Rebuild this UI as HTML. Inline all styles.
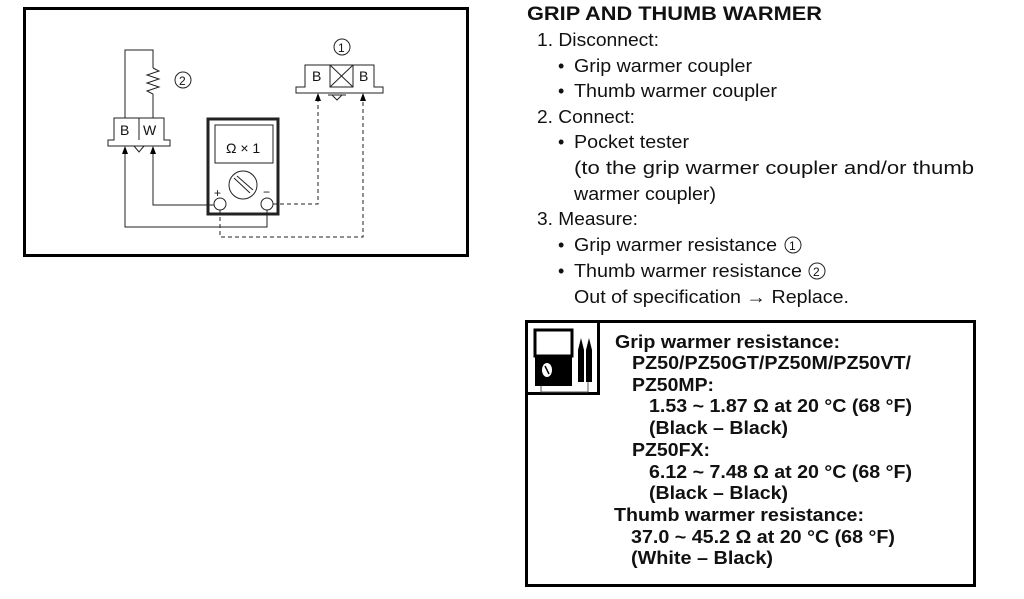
<!DOCTYPE html>
<html><head><meta charset="utf-8"><style>
html,body{margin:0;padding:0;background:#fff;width:1024px;height:599px;overflow:hidden}
svg{display:block}
text{font-family:"Liberation Sans",Arial,sans-serif;fill:#111}
</style></head><body>
<svg width="1024" height="599" viewBox="0 0 1024 599">
<!-- diagram frame -->
<rect x="24.5" y="8.5" width="443" height="247" fill="none" stroke="#000" stroke-width="3"/>
<g stroke="#222" stroke-width="1" fill="none">
 <polyline points="125,118 125,50 153,50 153,68"/>
 <polyline points="153,68 159,71 147,75 159,79 147,83 159,87 147,91 153,94 153,118"/>
 <circle cx="183" cy="80" r="8"/>
 <path d="M114,140 V118 H164 V140 H170 V146 H108 V140 Z"/>
 <line x1="139" y1="118" x2="139" y2="140"/>
 <path d="M134,146 L139,152 L144,146"/>
 <rect x="208" y="119" width="70" height="95" stroke-width="3"/>
 <rect x="215" y="125" width="58" height="38"/>
 <circle cx="243" cy="185" r="14"/>
 <line x1="234" y1="178" x2="250" y2="193"/><line x1="237" y1="176" x2="253" y2="190"/>
 <circle cx="220" cy="204" r="6"/>
 <circle cx="267" cy="204" r="6"/>
 <polyline points="153,152 153,205 214,205"/>
 <polyline points="125,152 125,227 267,227 267,210"/>
 <path d="M305,87 V65 H374 V87 H383 V93 H296 V87 Z"/>
 <rect x="330" y="65" width="23" height="22"/>
 <line x1="330" y1="65" x2="353" y2="87"/><line x1="353" y1="65" x2="330" y2="87"/>
 <path d="M332,95 L337,100 L342,95"/><line x1="328" y1="95" x2="346" y2="95"/>
 <circle cx="342" cy="47" r="8"/>
 <polyline points="273,204 318,204 318,100" stroke-dasharray="4,3"/>
 <polyline points="220,210 220,237 363,237 363,100" stroke-dasharray="4,3"/>
</g>
<g fill="#000">
 <path d="M125,146 L122,154 L128,154 Z"/>
 <path d="M153,146 L150,154 L156,154 Z"/>
 <path d="M318,93 L315,101 L321,101 Z"/>
 <path d="M363,93 L360,101 L366,101 Z"/>
</g>
<g font-size="14">
 <text x="120" y="135">B</text><text x="143" y="135">W</text>
 <text x="312" y="81">B</text><text x="359" y="81">B</text>
 <text x="179" y="85" font-size="12">2</text>
 <text x="338" y="52" font-size="12">1</text>
 <text x="226" y="153" font-size="14">Ω × 1</text>
 <text x="214" y="197" font-size="12">+</text><text x="263" y="196" font-size="12">−</text>
</g>
<!-- right text -->
<g lengthAdjust="spacingAndGlyphs">
<text x="527" y="20" font-size="19" font-weight="bold" textLength="295" lengthAdjust="spacingAndGlyphs">GRIP AND THUMB WARMER</text>
</g>
<g font-size="18">
 <text x="537" y="46" textLength="122" lengthAdjust="spacingAndGlyphs">1. Disconnect:</text>
 <text x="558" y="72">•</text><text x="574" y="72" textLength="178" lengthAdjust="spacingAndGlyphs">Grip warmer coupler</text>
 <text x="558" y="97">•</text><text x="574" y="97" textLength="203" lengthAdjust="spacingAndGlyphs">Thumb warmer coupler</text>
 <text x="537" y="123" textLength="98" lengthAdjust="spacingAndGlyphs">2. Connect:</text>
 <text x="558" y="148">•</text><text x="574" y="148" textLength="115" lengthAdjust="spacingAndGlyphs">Pocket tester</text>
 <text x="574" y="174" textLength="400" lengthAdjust="spacingAndGlyphs">(to the grip warmer coupler and/or thumb</text>
 <text x="574" y="200" textLength="142" lengthAdjust="spacingAndGlyphs">warmer coupler)</text>
 <text x="537" y="225" textLength="101" lengthAdjust="spacingAndGlyphs">3. Measure:</text>
 <text x="558" y="251">•</text><text x="574" y="251" textLength="203" lengthAdjust="spacingAndGlyphs">Grip warmer resistance</text>
 <circle cx="793" cy="245" r="8" fill="none" stroke="#222"/><text x="789" y="250" font-size="12">1</text>
 <text x="558" y="277">•</text><text x="574" y="277" textLength="228" lengthAdjust="spacingAndGlyphs">Thumb warmer resistance</text>
 <circle cx="817" cy="271" r="8" fill="none" stroke="#222"/><text x="813" y="276" font-size="12">2</text>
 <text x="574" y="303" textLength="275" lengthAdjust="spacingAndGlyphs">Out of specification → Replace.</text>
</g>
<!-- spec box -->
<rect x="526.5" y="321.5" width="448" height="264" fill="none" stroke="#000" stroke-width="3"/>
<rect x="526.5" y="321.5" width="72" height="72" fill="none" stroke="#000" stroke-width="3"/>
<rect x="535" y="330" width="37" height="26" fill="#fff" stroke="#000" stroke-width="3"/>
<rect x="535" y="356" width="37" height="30" fill="#000"/>
<ellipse cx="547" cy="370" rx="5" ry="7" fill="#fff"/>
<line x1="545" y1="366" x2="549" y2="374" stroke="#000" stroke-width="1.5"/>
<path d="M578,382 V350 L581,338 L584,350 V382 Z M586,382 V350 L589,338 L592,350 V382 Z" fill="#000"/>
<polyline points="541,386 541,392 588,392 588,382" fill="none" stroke="#555" stroke-width="1"/>
<g font-size="18" font-weight="bold">
 <text x="615" y="348" textLength="225" lengthAdjust="spacingAndGlyphs">Grip warmer resistance:</text>
 <text x="632" y="369" textLength="279" lengthAdjust="spacingAndGlyphs">PZ50/PZ50GT/PZ50M/PZ50VT/</text>
 <text x="632" y="391" textLength="82" lengthAdjust="spacingAndGlyphs">PZ50MP:</text>
 <text x="649" y="412" textLength="263" lengthAdjust="spacingAndGlyphs">1.53 ~ 1.87 Ω at 20 °C (68 °F)</text>
 <text x="649" y="434" textLength="139" lengthAdjust="spacingAndGlyphs">(Black – Black)</text>
 <text x="632" y="456" textLength="78" lengthAdjust="spacingAndGlyphs">PZ50FX:</text>
 <text x="649" y="478" textLength="263" lengthAdjust="spacingAndGlyphs">6.12 ~ 7.48 Ω at 20 °C (68 °F)</text>
 <text x="649" y="499" textLength="139" lengthAdjust="spacingAndGlyphs">(Black – Black)</text>
 <text x="614" y="521" textLength="250" lengthAdjust="spacingAndGlyphs">Thumb warmer resistance:</text>
 <text x="631" y="543" textLength="264" lengthAdjust="spacingAndGlyphs">37.0 ~ 45.2 Ω at 20 °C (68 °F)</text>
 <text x="631" y="564" textLength="142" lengthAdjust="spacingAndGlyphs">(White – Black)</text>
</g>
</svg>
</body></html>
